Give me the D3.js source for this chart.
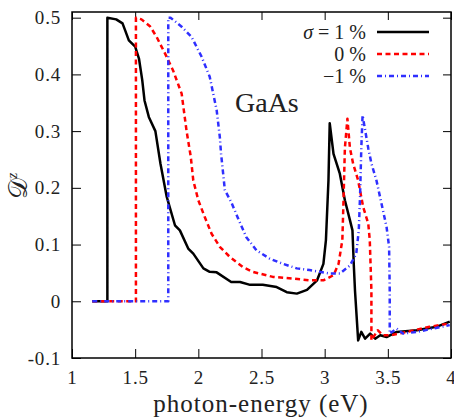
<!DOCTYPE html>
<html>
<head>
<meta charset="utf-8">
<style>
  body { margin: 0; background: #fff; }
  svg { display: block; }
  text { font-family: "Liberation Serif", serif; fill: #222; }
</style>
</head>
<body>
<svg></svg>
<script src="https://d3js.org/d3.v7.min.js"></script>
<script>
// chart size
var _width = 454
var _height = 418
var _svg = d3.select("svg").attr("width", _width).attr("height", _height)

// data: [photon energy (eV), Dz]
var strainP1 = [[1.16,0],[1.28,0],[1.28,0.5],[1.35,0.497],[1.40,0.49],[1.42,0.478],[1.45,0.46],[1.50,0.449],[1.53,0.428],[1.556,0.39],[1.574,0.354],[1.608,0.325],[1.66,0.30],[1.70,0.243],[1.75,0.184],[1.815,0.134],[1.854,0.125],[1.92,0.093],[1.96,0.084],[2.04,0.058],[2.09,0.052],[2.145,0.051],[2.26,0.034],[2.33,0.034],[2.41,0.029],[2.51,0.029],[2.62,0.025],[2.70,0.016],[2.78,0.0135],[2.86,0.02],[2.94,0.037],[2.99,0.066],[3.01,0.108],[3.03,0.213],[3.04,0.314],[3.07,0.26],[3.12,0.225],[3.16,0.178],[3.20,0.143],[3.22,0.125],[3.23,0.067],[3.24,0.019],[3.265,-0.069],[3.29,-0.054],[3.32,-0.066],[3.36,-0.057],[3.40,-0.066],[3.44,-0.06],[3.49,-0.063],[3.57,-0.054],[3.73,-0.051],[3.885,-0.045],[3.99,-0.036]]
var strain0 = [[1.16,0],[1.506,0],[1.506,0.5],[1.55,0.497],[1.617,0.485],[1.67,0.466],[1.736,0.437],[1.80,0.407],[1.868,0.366],[1.907,0.30],[1.94,0.255],[1.96,0.213],[2.0,0.178],[2.05,0.149],[2.105,0.119],[2.17,0.096],[2.25,0.078],[2.355,0.06],[2.43,0.052],[2.59,0.043],[2.75,0.04],[2.88,0.037],[2.99,0.037],[3.07,0.046],[3.11,0.066],[3.14,0.108],[3.15,0.184],[3.16,0.27],[3.18,0.322],[3.2,0.27],[3.225,0.243],[3.265,0.213],[3.305,0.166],[3.345,0.137],[3.357,0.108],[3.37,0.019],[3.37,-0.069],[3.42,-0.051],[3.46,-0.06],[3.52,-0.06],[3.65,-0.054],[3.83,-0.045],[3.99,-0.039]]
var strainM1 = [[1.16,0],[1.762,0],[1.762,0.5],[1.78,0.5],[1.868,0.484],[1.947,0.466],[2.026,0.431],[2.09,0.396],[2.145,0.337],[2.17,0.29],[2.18,0.26],[2.21,0.196],[2.26,0.175],[2.315,0.146],[2.38,0.113],[2.46,0.09],[2.566,0.075],[2.67,0.066],[2.78,0.058],[2.88,0.055],[3.04,0.049],[3.12,0.049],[3.2,0.063],[3.25,0.084],[3.27,0.125],[3.28,0.184],[3.29,0.27],[3.30,0.328],[3.345,0.27],[3.37,0.243],[3.41,0.213],[3.45,0.172],[3.49,0.131],[3.51,0.096],[3.515,0.019],[3.515,-0.057],[3.57,-0.048],[3.62,-0.057],[3.73,-0.054],[3.86,-0.048],[3.99,-0.042]]

var xTicks = [1, 1.5, 2, 2.5, 3, 3.5, 4]
var yTicks = [-0.1, 0, 0.1, 0.2, 0.3, 0.4, 0.5]
var legendLabels = ["1 %", "0 %", "\u22121 %"]

// plot box
var boxL = 72, boxR = 451, boxT = 12, boxB = 358

var x = d3.scaleLinear().domain([1, 4]).range([boxL, boxR])
var y = d3.scaleLinear().domain([-0.1, 0.51]).range([boxB, boxT])

function fmt(d) { return String(+(+d).toFixed(2)) }

// axes, ticks pointing inwards
_svg.append("g").attr("transform", "translate(0," + boxB + ")")
  .call(d3.axisBottom(x).tickValues(xTicks).tickSizeInner(-9).tickSizeOuter(0).tickPadding(13).tickFormat(fmt))
_svg.append("g").attr("transform", "translate(" + boxL + ",0)")
  .call(d3.axisLeft(y).tickValues(yTicks).tickSizeInner(-9).tickSizeOuter(0).tickPadding(11).tickFormat(fmt))
_svg.append("g").attr("transform", "translate(0," + boxT + ")")
  .call(d3.axisTop(x).tickValues(xTicks).tickSizeInner(-8).tickSizeOuter(0).tickFormat(""))
_svg.append("g").attr("transform", "translate(" + boxR + ",0)")
  .call(d3.axisRight(y).tickValues(yTicks).tickSizeInner(-8).tickSizeOuter(0).tickFormat(""))

_svg.selectAll(".domain").remove()
_svg.selectAll(".tick line").attr("stroke", "#000").attr("stroke-width", 1)
_svg.selectAll(".tick text").attr("font-family", "Liberation Serif").attr("font-size", 19)
  .attr("fill", "#222").attr("letter-spacing", 0.8)

_svg.append("rect").attr("x", boxL).attr("y", boxT)
  .attr("width", boxR - boxL).attr("height", boxB - boxT)
  .attr("fill", "none").attr("stroke", "#000").attr("stroke-width", 1.5)

// curves
var line = d3.line().x(d => x(d[0])).y(d => y(d[1]))
var series = [
  { data: strainP1, color: "#000", dash: null },
  { data: strain0, color: "#ff0000", dash: "5,3.5" },
  { data: strainM1, color: "#2f2fff", dash: "5,3,1,3" }
]
series.forEach(function (s) {
  _svg.append("path").datum(s.data)
    .attr("d", line)
    .attr("fill", "none")
    .attr("stroke", s.color)
    .attr("stroke-width", 2.5)
    .attr("stroke-linejoin", "round")
    .attr("stroke-dasharray", s.dash)
})

// legend
var legendY = d3.scaleLinear().domain([0, 1]).range([32, 54])
series.forEach(function (s, i) {
  var ly = legendY(i)
  var t = _svg.append("text").attr("x", 366).attr("y", ly + 7)
    .attr("text-anchor", "end").attr("font-size", 20)
  if (i === 0) {
    t.append("tspan").attr("font-style", "italic").text("\u03c3")
    t.append("tspan").text(" = " + legendLabels[i])
  } else {
    t.text(legendLabels[i])
  }
  _svg.append("line").attr("x1", 377).attr("x2", 429).attr("y1", ly).attr("y2", ly)
    .attr("stroke", s.color).attr("stroke-width", 2.5).attr("stroke-dasharray", s.dash)
})

// labels
_svg.append("text").attr("x", 235).attr("y", 112).attr("font-size", 28).text("GaAs")

_svg.append("text").attr("x", 261).attr("y", 412)
  .attr("text-anchor", "middle").attr("font-size", 25).attr("letter-spacing", 1)
  .text("photon-energy (eV)")

var yl = _svg.append("text").attr("transform", "translate(27,186) rotate(-90)")
  .attr("text-anchor", "middle").attr("font-size", 26)
yl.append("tspan").attr("font-family", "DejaVu Serif, DejaVu Sans").text("\ud835\udc9f")
yl.append("tspan").attr("font-size", 15).attr("font-style", "italic").attr("dy", -10).text("z")
</script>
</body>
</html>
